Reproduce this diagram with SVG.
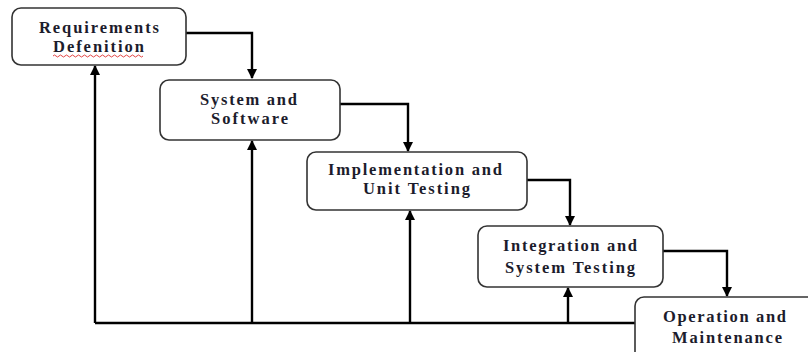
<svg xmlns="http://www.w3.org/2000/svg" width="808" height="352" viewBox="0 0 808 352">
<style>
.box{fill:#fff;stroke:#333;stroke-width:1.6}
.lbl{font-family:"Liberation Serif","Times New Roman",serif;font-weight:bold;font-size:16.5px;fill:#1c1c2c;text-anchor:middle}
.con{fill:none;stroke:#000;stroke-width:2.4}
</style>
<defs>
<marker id="ah" viewBox="0 0 10 10" refX="9" refY="5" markerWidth="4.2" markerHeight="4.2" orient="auto" markerUnits="strokeWidth">
<path d="M0,0 L10,5 L0,10 z" fill="#000"/>
</marker>
</defs>
<rect width="808" height="352" fill="#fff"/>
<g id="connectors">
<path class="con" d="M186,33 H252 V78" marker-end="url(#ah)"/>
<path class="con" d="M340,104 H408 V151" marker-end="url(#ah)"/>
<path class="con" d="M527,180 H570 V225" marker-end="url(#ah)"/>
<path class="con" d="M663,251 H727 V296" marker-end="url(#ah)"/>
<path class="con" d="M95,323 H635"/>
<path class="con" d="M95,323 V66" marker-end="url(#ah)"/>
<path class="con" d="M252,323 V141" marker-end="url(#ah)"/>
<path class="con" d="M410,323 V211" marker-end="url(#ah)"/>
<path class="con" d="M568,323 V288" marker-end="url(#ah)"/>
</g>
<g id="n1">
<rect class="box" x="12" y="8" width="174" height="57" rx="9"/>
<text class="lbl" x="99" y="33" textLength="120" lengthAdjust="spacing">Requirements</text>
<text class="lbl" x="98.5" y="52" textLength="91" lengthAdjust="spacing">Defenition</text>
<path d="M53,56 q1.5,-2 3,0 t3,0 t3,0 t3,0 t3,0 t3,0 t3,0 t3,0 t3,0 t3,0 t3,0 t3,0 t3,0 t3,0 t3,0 t3,0 t3,0 t3,0 t3,0 t3,0 t3,0 t3,0 t3,0 t3,0 t3,0 t3,0 t3,0 t3,0 t3,0 t3,0" fill="none" stroke="#e03030" stroke-width="0.9"/>
</g>
<g id="n2">
<rect class="box" x="160" y="80" width="180" height="60" rx="9"/>
<text class="lbl" x="248.5" y="105" textLength="97" lengthAdjust="spacing">System and</text>
<text class="lbl" x="249.5" y="124" textLength="77" lengthAdjust="spacing">Software</text>
</g>
<g id="n3">
<rect class="box" x="307" y="152" width="220" height="58" rx="9"/>
<text class="lbl" x="415" y="175" textLength="174" lengthAdjust="spacing">Implementation and</text>
<text class="lbl" x="416.5" y="194" textLength="107" lengthAdjust="spacing">Unit Testing</text>
</g>
<g id="n4">
<rect class="box" x="478" y="226" width="185" height="61" rx="9"/>
<text class="lbl" x="570" y="251" textLength="134" lengthAdjust="spacing">Integration and</text>
<text class="lbl" x="570" y="273" textLength="130" lengthAdjust="spacing">System Testing</text>
</g>
<g id="n5">
<rect class="box" x="635" y="297" width="185" height="70" rx="9"/>
<text class="lbl" x="724.5" y="322" textLength="123" lengthAdjust="spacing">Operation and</text>
<text class="lbl" x="727" y="343" textLength="110" lengthAdjust="spacing">Maintenance</text>
</g>
</svg>
